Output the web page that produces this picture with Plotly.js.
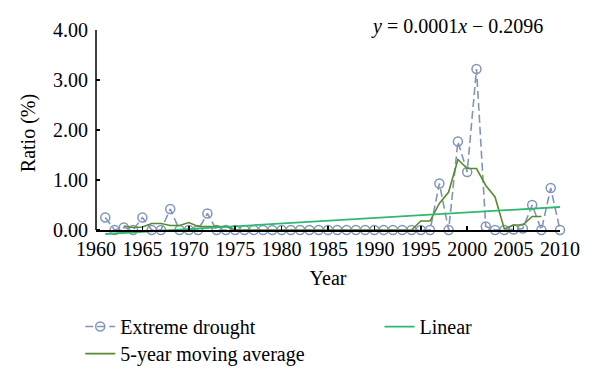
<!DOCTYPE html>
<html>
<head>
<meta charset="utf-8">
<script src="https://cdn.plot.ly/plotly-3.0.1.min.js"></script>
<style>html,body{margin:0;padding:0;background:#fff;}#chart{width:600px;height:385px;}</style>
</head>
<body>
<div id="chart"></div>
<script>
// Years 1961-2010
const years = [1961,1962,1963,1964,1965,1966,1967,1968,1969,1970,
               1971,1972,1973,1974,1975,1976,1977,1978,1979,1980,
               1981,1982,1983,1984,1985,1986,1987,1988,1989,1990,
               1991,1992,1993,1994,1995,1996,1997,1998,1999,2000,
               2001,2002,2003,2004,2005,2006,2007,2008,2009,2010];
const extremeDrought = [0.25,0.00,0.05,0.00,0.25,0.00,0.00,0.42,0.00,0.00,
                        0.00,0.33,0.00,0.00,0.00,0.00,0.00,0.00,0.00,0.00,
                        0.00,0.00,0.00,0.00,0.00,0.00,0.00,0.00,0.00,0.00,
                        0.00,0.00,0.00,0.00,0.00,0.00,0.93,0.00,1.77,1.16,
                        3.22,0.07,0.00,0.00,0.01,0.03,0.50,0.00,0.84,0.00];
// 5-year moving average, 1963-2008
const maYears = [1963,1964,1965,1966,1967,1968,1969,1970,1971,1972,
                 1973,1974,1975,1976,1977,1978,1979,1980,1981,1982,
                 1983,1984,1985,1986,1987,1988,1989,1990,1991,1992,
                 1993,1994,1995,1996,1997,1998,1999,2000,2001,2002,
                 2003,2004,2005,2006,2007,2008];
const movingAvg = [0.08,0.05,0.06,0.13,0.13,0.09,0.09,0.15,0.07,0.07,
                   0.07,0.07,0.00,0.00,0.00,0.00,0.00,0.00,0.00,0.00,
                   0.00,0.00,0.00,0.00,0.00,0.00,0.00,0.00,0.00,0.00,
                   0.00,0.00,0.18,0.18,0.53,0.76,1.41,1.23,1.23,0.89,
                   0.66,0.02,0.10,0.10,0.27,0.27];
const linYears = [1961, 2010];
const linear = [-0.08, 0.46];
const yTickVals = [0, 1, 2, 3, 4];
const yTickText = ['0.00', '1.00', '2.00', '3.00', '4.00'];

const serif = "Liberation Serif, Times New Roman, serif";
const fs = 20;
const fnt = {family: serif, size: fs, color: '#000'};

const traces = [
  {x: years, y: extremeDrought, name: 'Extreme drought', type: 'scatter', mode: 'lines+markers',
   line: {color: '#8295b8', width: 1.6, dash: '8px,4px'},
   marker: {symbol: 'circle-open', size: 9, color: '#8295b8', line: {width: 1.5, color: '#8295b8'}},
   cliponaxis: false, legend: 'legend'},
  {x: maYears, y: movingAvg, name: '5-year moving average', type: 'scatter', mode: 'lines',
   line: {color: '#5a8a2e', width: 1.6}, legend: 'legend3'},
  {x: linYears, y: linear, name: 'Linear', type: 'scatter', mode: 'lines',
   line: {color: '#2eb872', width: 1.8}, legend: 'legend2'}
];

const yMin = -0.12, yMax = 4.0;
const legBase = {orientation: 'v', xanchor: 'left', yanchor: 'top', font: fnt,
                 bgcolor: 'rgba(0,0,0,0)', itemwidth: 30};
const layout = {
  width: 600, height: 385,
  margin: {l: 96, r: 40, t: 30, b: 149, autoexpand: false},
  paper_bgcolor: '#fff', plot_bgcolor: '#fff',
  font: fnt,
  showlegend: true,
  xaxis: {
    range: [1960, 2010], tickmode: 'linear', tick0: 1960, dtick: 5,
    anchor: 'free', position: (0 - yMin) / (yMax - yMin),
    showline: true, linecolor: '#000', linewidth: 1.5,
    ticks: 'inside', ticklen: 4, tickcolor: '#000', tickwidth: 1.5,
    showgrid: false, zeroline: false, tickfont: fnt, ticklabelstandoff: 0,
    title: {text: 'Year', font: fnt, standoff: 12}
  },
  yaxis: {
    range: [yMin, yMax], tickmode: 'array', tickvals: yTickVals, ticktext: yTickText,
    showline: false, ticks: 'inside', ticklen: 4, tickcolor: '#000', tickwidth: 1.5,
    showgrid: false, zeroline: false, tickfont: fnt, ticklabelstandoff: 7,
    title: {text: 'Ratio (%)', font: fnt, standoff: 12}
  },
  shapes: [
    {type: 'line', xref: 'paper', yref: 'y', x0: 0, x1: 0, y0: 0, y1: yMax,
     line: {color: '#000', width: 1.5}}
  ],
  annotations: [
    {xref: 'paper', yref: 'paper', x: 0.968, y: 1.015, xanchor: 'right', yanchor: 'middle',
     showarrow: false, text: '<i>y</i> = 0.0001<i>x</i> − 0.2096', font: fnt}
  ],
  legend: Object.assign({}, legBase, {x: -0.034, y: -0.345}),
  legend2: Object.assign({}, legBase, {x: 0.611, y: -0.345}),
  legend3: Object.assign({}, legBase, {x: -0.034, y: -0.4765})
};

Plotly.newPlot('chart', traces, layout, {displayModeBar: false, staticPlot: true});
</script>
</body>
</html>
